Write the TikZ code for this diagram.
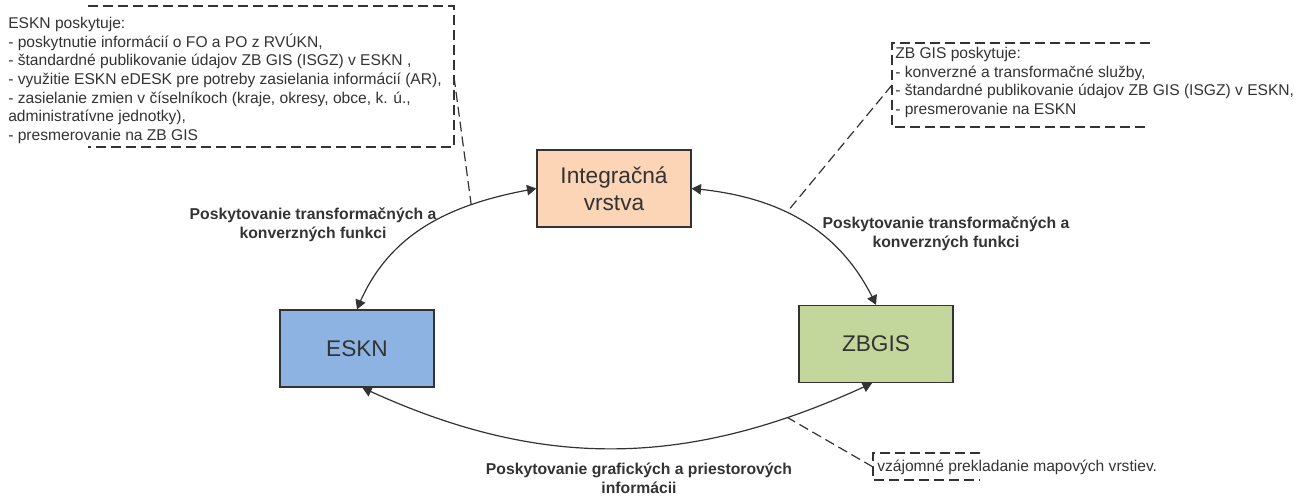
\documentclass[tikz,border=0pt]{standalone}
\usepackage{fontspec}
\setmainfont{Liberation Sans}
\usepackage{xcolor}
\usetikzlibrary{arrows}
\usetikzlibrary{calc}

\definecolor{integr}{HTML}{FBD5B5}
\definecolor{eskncol}{HTML}{8DB3E2}
\definecolor{zbgiscol}{HTML}{C3D69B}
\definecolor{okraj}{HTML}{333333}

\begin{document}
\begin{tikzpicture}[x=0.75pt,y=0.75pt,
	blok/.style={draw=okraj,line width=1pt,minimum width=115.5pt,minimum height=57.75pt,inner sep=0pt,align=center,font=\fontsize{17}{20}\selectfont,text=okraj},
	popis/.style={align=center,font=\fontsize{11.8}{14}\selectfont\bfseries,text=okraj},
	pozn/.style={align=left,inner sep=0pt,font=\fontsize{11.7}{14}\selectfont,text=okraj},
	ciara/.style={draw=okraj,line width=0.9pt,triangle 60-triangle 60},
	carkovana/.style={draw=okraj,line width=0.9pt,dash pattern=on 7.5pt off 3.75pt}]
			\useasboundingbox (0,0) rectangle (1303,-496);
			
			%bloky
			\node[blok,fill=integr] (integ) at (614,-188.5) {Integračná\\vrstva};
			\node[blok,fill=eskncol] (eskn) at (357,-348.5) {ESKN};
			\node[blok,fill=zbgiscol] (zbgis) at (876,-344) {ZBGIS};
			
			%spojenia
			\draw[ciara] (integ.west) to[out=190,in=68] coordinate[pos=.28] (bodL) (eskn.north);
			\draw[ciara] (integ.east) to[out=-5,in=115] coordinate[pos=.42] (bodP) (zbgis.north);
			\draw[ciara] ([xshift=4pt]eskn.south) to[out=-25,in=205] coordinate[pos=.84] (bodD) ([xshift=-3pt]zbgis.south);
			
			%popisy spojeni
			\node[popis] (popisL) at (313,-225) {Poskytovanie transformačných a\\konverzných funkci};
			\node[popis] (popisP) at (946,-234) {Poskytovanie transformačných a\\konverzných funkci};
			\node[popis] (popisD) at (639,-478) {Poskytovanie grafických a priestorových\\informácii};
			
			%poznamka ESKN
			\node[pozn,anchor=north west] (poznE) at (8,-17) {ESKN poskytuje:\\
				- poskytnutie informácií o FO a PO z RVÚKN,\\
				- štandardné publikovanie údajov ZB GIS (ISGZ) v ESKN ,\\
				- využitie ESKN eDESK pre potreby zasielania informácií (AR),\\
				- zasielanie zmien v číselníkoch (kraje, okresy, obce, k. ú.,\\
				administratívne jednotky),\\
				- presmerovanie na ZB GIS};
			\draw[carkovana] (88,-6) -- (454,-6) -- (454,-147) -- (88,-147);
			\coordinate (zE) at (454,-77);
			\draw[carkovana] (zE) -- (bodL);
			
			%poznamka ZB GIS
			\node[pozn,anchor=north west] (poznZ) at (895,-47) {ZB GIS poskytuje:\\
				- konverzné a transformačné služby,\\
				- štandardné publikovanie údajov ZB GIS (ISGZ) v ESKN,\\
				- presmerovanie na ESKN};
			\draw[carkovana] (1150,-43) -- (892,-43) -- (892,-127) -- (1150,-127);
			\coordinate (zZ) at (892,-85);
			\draw[carkovana] (zZ) -- (bodP);
			
			%poznamka mapove vrstvy
			\node[pozn,anchor=west] (poznM) at (877,-467) {vzájomné prekladanie mapových vrstiev.};
			\draw[carkovana] (980,-453) -- (873,-453) -- (873,-480) -- (980,-480);
			\coordinate (zM) at (873,-467);
			\draw[carkovana] (zM) -- (bodD);
\end{tikzpicture}
\end{document}
